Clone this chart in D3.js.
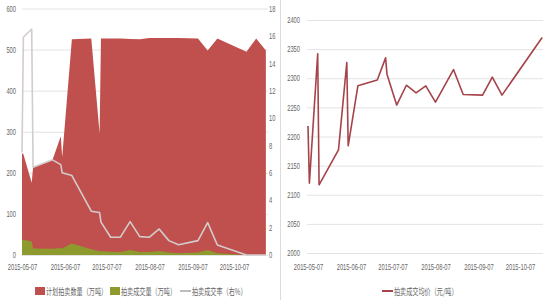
<!DOCTYPE html>
<html><head><meta charset="utf-8">
<script src="https://cdn.jsdelivr.net/npm/d3@7"></script>
<style>
html,body{margin:0;padding:0;background:#fff;}
svg{display:block;font-family:"Liberation Sans","Noto Sans CJK SC",sans-serif;}
</style></head>
<body>
<svg id="c" width="550" height="300"></svg>
<script>
// ---- Left chart data ----
const auctionDates = ["2015-05-07","2015-05-08","2015-05-14","2015-05-15","2015-05-29","2015-06-04","2015-06-05","2015-06-12","2015-06-26","2015-07-02","2015-07-03","2015-07-10","2015-07-17","2015-07-24","2015-07-31","2015-08-07","2015-08-14","2015-08-21","2015-08-28","2015-09-11","2015-09-18","2015-09-25","2015-10-16","2015-10-23","2015-10-30"];
const planAmount   = [248,245,176,213,231,289,238,525,527,296,527,527,527,526,525,528,528,528,528,527,498,527,495,527,498];
const dealAmount   = [37,37,33,16,15,17,16,28,14,9,9,8,7,12,7,7,10,6,4,6,12,4,0,0,0];
const dealRate     = [7.5,15.9,16.5,6.4,6.95,6.6,6.0,5.8,3.2,3.1,2.4,1.3,1.3,2.44,1.34,1.3,1.9,1.05,0.75,1.05,2.36,0.73,0,0,0];
// ---- Right chart data ----
const priceDates = ["2015-05-07","2015-05-08","2015-05-14","2015-05-15","2015-05-29","2015-06-04","2015-06-05","2015-06-12","2015-06-26","2015-07-02","2015-07-03","2015-07-10","2015-07-17","2015-07-24","2015-07-31","2015-08-07","2015-08-20","2015-08-27","2015-09-10","2015-09-17","2015-09-24","2015-10-23"];
const avgPrice   = [2218,2120,2342,2117,2177,2327,2184,2287,2297,2335,2307,2254,2288,2275,2287,2259,2315,2272,2271,2302,2271,2370];
// ---- tick labels ----
const xTickLabels = ["2015-05-07","2015-06-07","2015-07-07","2015-08-07","2015-09-07","2015-10-07"];
const leftTicks  = [0,100,200,300,400,500,600];
const rightTicks = [0,2,4,6,8,10,12,14,16,18];
const priceTicks = [2000,2050,2100,2150,2200,2250,2300,2350,2400];
const legendLeft = ["计划拍卖数量（万吨）","拍卖成交量（万吨）","拍卖成交率（右%）"];
const legendRight = ["拍卖成交均价（元/吨）"];

const parse = d3.timeParse("%Y-%m-%d");
const fmt = d3.timeFormat("%Y-%m-%d");
const SX = 0.68;
const txtColor = "#666666", gridColor = "#e3e3e3";
const red = "#c0504d", olive = "#8c9a2e", rateColor = "#d3cccc", priceColor = "#a5434a";

const svg = d3.select("#c");

// ===== Left chart =====
const xL = d3.scaleTime().domain([parse("2015-05-07"), parse("2015-10-07")]).range([22, 234]);
const yL = d3.scaleLinear().domain([0, 600]).range([255, 8.5]);
const yR = d3.scaleLinear().domain([0, 18]).range([255, 8.5]);
const left = auctionDates.map((d, i) => ({date: parse(d), plan: planAmount[i], deal: dealAmount[i], rate: dealRate[i]}));

const gL = svg.append("g").attr("transform", "translate(22,0)")
  .call(d3.axisLeft(yL).tickValues(leftTicks).tickSize(-246).tickFormat(d3.format("d")));
gL.select(".domain").remove();
gL.selectAll("line").attr("stroke", gridColor);
gL.selectAll("text").attr("x", -6 / SX).attr("transform", `scale(${SX},1)`)
  .attr("fill", txtColor).style("font-size", "8.5px").style("font-family", "Liberation Sans");

svg.append("path").datum(left)
  .attr("d", d3.area().x(d => xL(d.date)).y0(yL(0)).y1(d => yL(d.plan)))
  .attr("fill", red);
svg.append("path").datum(left)
  .attr("d", d3.area().x(d => xL(d.date)).y0(yL(0)).y1(d => yL(d.deal)))
  .attr("fill", olive);
svg.append("path").datum(left)
  .attr("d", d3.line().x(d => xL(d.date)).y(d => yR(d.rate)))
  .attr("fill", "none").attr("stroke", rateColor).attr("stroke-width", 1.6).attr("stroke-linejoin", "round");

const gR = svg.append("g").attr("transform", "translate(268,0)")
  .call(d3.axisRight(yR).tickValues(rightTicks).tickSize(0).tickFormat(d3.format("d")));
gR.select(".domain").remove();
gR.selectAll("text").attr("x", 1 / SX).attr("transform", `scale(${SX},1)`)
  .attr("fill", txtColor).style("font-size", "8.5px").style("font-family", "Liberation Sans");

const gXL = svg.append("g").attr("transform", "translate(0,255)")
  .call(d3.axisBottom(xL).tickValues(xTickLabels.map(parse)).tickSize(0).tickFormat(fmt));
gXL.select(".domain").remove();
gXL.selectAll("text").attr("y", 8.5).attr("transform", `scale(${SX},1)`)
  .attr("fill", txtColor).style("font-size", "8.5px").style("font-family", "Liberation Sans");

// Left legend
const lg = svg.append("g").attr("transform", "translate(0,291)");
lg.append("rect").attr("x", 35).attr("y", -4).attr("width", 10).attr("height", 8).attr("fill", red);
lg.append("text").attr("transform", `translate(46,3.5) scale(${SX},1)`).text(legendLeft[0])
  .attr("fill", txtColor).style("font-size", "9px").style("font-family", "Noto Sans CJK SC");
lg.append("rect").attr("x", 110).attr("y", -4).attr("width", 10).attr("height", 8).attr("fill", olive);
lg.append("text").attr("transform", `translate(121,3.5) scale(${SX},1)`).text(legendLeft[1])
  .attr("fill", txtColor).style("font-size", "9px").style("font-family", "Noto Sans CJK SC");
lg.append("line").attr("x1", 180).attr("x2", 191).attr("y1", 0).attr("y2", 0).attr("stroke", "#bdbdbd").attr("stroke-width", 2);
lg.append("text").attr("transform", `translate(192,3.5) scale(${SX},1)`).text(legendLeft[2])
  .attr("fill", txtColor).style("font-size", "9px").style("font-family", "Noto Sans CJK SC");

// Separator
svg.append("line").attr("x1", 280.5).attr("x2", 280.5).attr("y1", 0).attr("y2", 300).attr("stroke", "#dcdcdc");

// ===== Right chart =====
const xP = d3.scaleTime().domain([parse("2015-05-07"), parse("2015-10-07")]).range([308, 520]);
const yP = d3.scaleLinear().domain([2000, 2400]).range([253, 20]);
const right = priceDates.map((d, i) => ({date: parse(d), price: avgPrice[i]}));

const gP = svg.append("g").attr("transform", "translate(307,0)")
  .call(d3.axisLeft(yP).tickValues(priceTicks).tickSize(-236).tickFormat(d3.format("d")));
gP.select(".domain").remove();
gP.selectAll("line").attr("stroke", gridColor);
gP.selectAll("text").attr("x", -7 / SX).attr("transform", `scale(${SX},1)`)
  .attr("fill", txtColor).style("font-size", "8.5px").style("font-family", "Liberation Sans");

svg.append("path").datum(right)
  .attr("d", d3.line().x(d => xP(d.date)).y(d => yP(d.price)))
  .attr("fill", "none").attr("stroke", priceColor).attr("stroke-width", 1.6).attr("stroke-linejoin", "round");

const gXP = svg.append("g").attr("transform", "translate(0,255)")
  .call(d3.axisBottom(xP).tickValues(xTickLabels.map(parse)).tickSize(0).tickFormat(fmt));
gXP.select(".domain").remove();
gXP.selectAll("text").attr("y", 8.5).attr("transform", `scale(${SX},1)`)
  .attr("fill", txtColor).style("font-size", "8.5px").style("font-family", "Liberation Sans");

const rg = svg.append("g").attr("transform", "translate(0,291)");
rg.append("line").attr("x1", 382).attr("x2", 393).attr("y1", 0).attr("y2", 0).attr("stroke", priceColor).attr("stroke-width", 2);
rg.append("text").attr("transform", `translate(394,3.5) scale(${SX},1)`).text(legendRight[0])
  .attr("fill", txtColor).style("font-size", "9px").style("font-family", "Noto Sans CJK SC");
</script>
</body></html>
